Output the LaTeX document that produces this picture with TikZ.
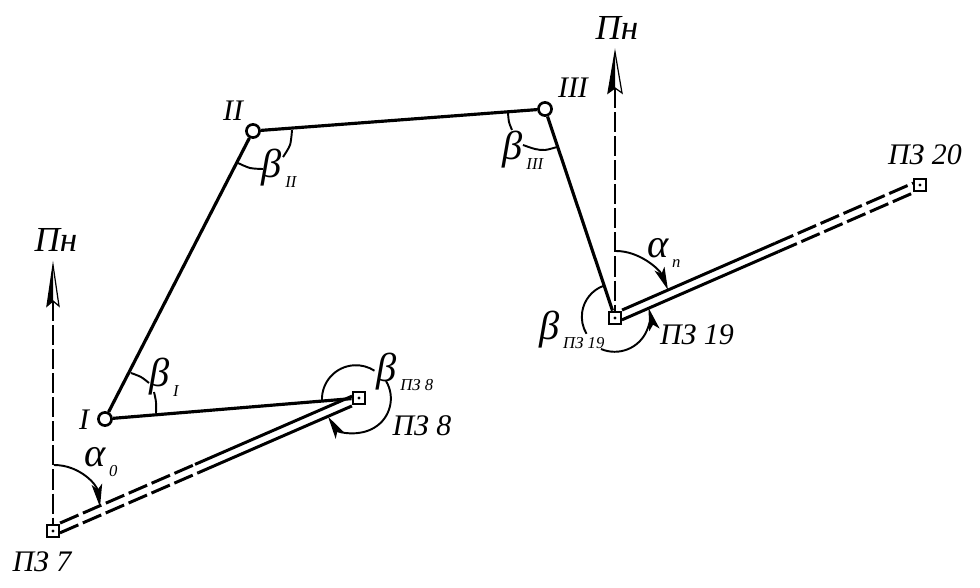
\documentclass[tikz,border=0pt]{standalone}
\usepackage{fontspec}
\setmainfont{Liberation Serif}
\usetikzlibrary{arrows.meta,calc}

\newcommand{\bigfont}{\itshape\fontsize{17}{17}\selectfont}
\newcommand{\anglelabel}[2]{\itshape{\fontsize{23}{23}\selectfont #1}\raisebox{-5.5pt}{\kern2pt\fontsize{9.5}{9.5}\selectfont #2}}

\tikzset{
  x=0.02cm, y=-0.02cm,
  turn/.style={shape=circle,draw,fill=white,line width=1.5pt,inner sep=0pt,minimum size=7.5pt},
  station/.style={shape=rectangle,draw,fill=white,line width=1.2pt,inner sep=0pt,minimum size=7.2pt,
    path picture={\fill[black] (path picture bounding box.center) circle (0.9pt);}},
  leg/.style={line width=1.8pt},
  solidrun/.style={line width=1.7pt},
  dashrun/.style={line width=1.7pt,dash pattern=on 11.4pt off 2.8pt},
  meridian/.style={line width=1pt,dash pattern=on 11.4pt off 2.3pt},
  anglearc/.style={line width=1.1pt},
  anglearrow/.style={line width=1.1pt,-{Stealth[length=13pt,width=6pt,inset=3pt]}},
  txt/.style={inner sep=0pt}
}

\begin{document}
\begin{tikzpicture}
  \useasboundingbox (0,0) rectangle (980,588);

  \node[turn] (I) at (105,419) {};
  \node[turn] (II) at (253,131) {};
  \node[turn] (III) at (545,109) {};
  \node[station] (pz7) at (53,531) {};
  \node[station] (pz8) at (359,398) {};
  \node[station] (pz19) at (615,318) {};
  \node[station] (pz20) at (920,185) {};

  % traverse legs
  \draw[leg] (I) -- (II);
  \draw[leg] (II) -- (III);
  \draw[leg] (III) -- (pz19);
  \draw[leg] (I) -- (pz8);

  % known lines, drawn twice
  \coordinate (brk7) at ($(pz7.center)!0.47!(pz8.center)$);
  \coordinate (brk19) at ($(pz19.center)!0.53!(pz20.center)$);
  \foreach \dx/\dy/\sa/\sb in {1.8/4.1/5.5pt/3.2pt,-1.8/-4.1/3.2pt/5.5pt} {
    \draw[dashrun,shorten <=\sb] ([xshift=\dx*0.02cm,yshift=-\dy*0.02cm]pz7.center) -- ([xshift=\dx*0.02cm,yshift=-\dy*0.02cm]brk7);
    \draw[solidrun,shorten >=\sa] ([xshift=\dx*0.02cm,yshift=-\dy*0.02cm]brk7) -- ([xshift=\dx*0.02cm,yshift=-\dy*0.02cm]pz8.center);
    \draw[solidrun,shorten <=\sb] ([xshift=\dx*0.02cm,yshift=-\dy*0.02cm]pz19.center) -- ([xshift=\dx*0.02cm,yshift=-\dy*0.02cm]brk19);
    \draw[dashrun,shorten >=\sa] ([xshift=\dx*0.02cm,yshift=-\dy*0.02cm]brk19) -- ([xshift=\dx*0.02cm,yshift=-\dy*0.02cm]pz20.center);
  }

  % north lines
  \coordinate (pnA) at (53,265);
  \coordinate (pnB) at (615,52);
  \coordinate (pnAn) at (53,301);
  \coordinate (pnBn) at (615,88);
  \draw[meridian] (pnAn) -- (pz7);
  \draw[meridian] (pnBn) -- (pz19);
  \fill (pnA) -- (47,306) -- (pnAn) -- cycle;
  \draw[line width=0.7pt] (pnA) -- (47,306) -- (pnAn) -- (59,306) -- cycle;
  \fill (pnB) -- (608,93) -- (pnBn) -- cycle;
  \draw[line width=0.7pt] (pnB) -- (608,93) -- (pnBn) -- (622,93) -- cycle;

  % angles
  \draw[anglearc] plot[smooth] coordinates {(131,373) (141,377) (149,383)};
  \draw[anglearc] plot[smooth] coordinates {(154,392) (156,402) (156,413)};
  \draw[anglearc] plot[smooth] coordinates {(238,163) (250,168) (263,169)};
  \draw[anglearc] plot[smooth] coordinates {(283,157) (290,145) (292,130)};
  \draw[anglearc] plot[smooth] coordinates {(508,113) (509,122) (512,130)};
  \draw[anglearc] plot[smooth] coordinates {(523,145) (535,149) (545,150) (557,147)};
  \draw[anglearc] (322,401) arc[start angle=177,end angle=303,radius=34];
  \draw[anglearrow] (386,381) arc[start angle=329,end angle=508,radius=34];
  \draw[anglearc] (603,286) arc[start angle=249,end angle=149,radius=33];
  \draw[anglearrow] (601,349) arc[start angle=113,end angle=-15,radius=35];
  \draw[anglearrow] (54,465) .. controls (80,465) and (97,485) .. (100,507);
  \draw[anglearrow] (616,251) .. controls (640,251) and (660,270) .. (668,290);

  % labels
  \node[txt] (lI) at (84,420) {\bigfont I};
  \node[txt] (lII) at (233,111) {\bigfont II};
  \node[txt] (lIII) at (573,88) {\bigfont III};
  \node[txt] (lpn1) at (56,240) {\itshape\fontsize{20}{20}\selectfont Пн};
  \node[txt] (lpn2) at (617,28) {\itshape\fontsize{20}{20}\selectfont Пн};
  \node[txt] (l7) at (42,562) {\bigfont ПЗ 7};
  \node[txt] (l8) at (422,426) {\bigfont ПЗ 8};
  \node[txt] (l19) at (697,335) {\bigfont ПЗ 19};
  \node[txt] (l20) at (925,155) {\bigfont ПЗ 20};

  \node[txt] (a0) at (101,462) {\anglelabel{α}{0}};
  \node[txt] (an) at (664,253) {\anglelabel{α}{n}};
  \node[txt] (bI) at (164,377) {\anglelabel{β}{I}};
  \node[txt] (bII) at (279,168) {\anglelabel{β}{II}};
  \node[txt] (bIII) at (523,150) {\anglelabel{β}{III}};
  \node[txt] (b8) at (405,372) {\anglelabel{β}{ПЗ 8}};
  \node[txt] (b19) at (572,330) {\anglelabel{β}{ПЗ 19}};
\end{tikzpicture}
\end{document}
